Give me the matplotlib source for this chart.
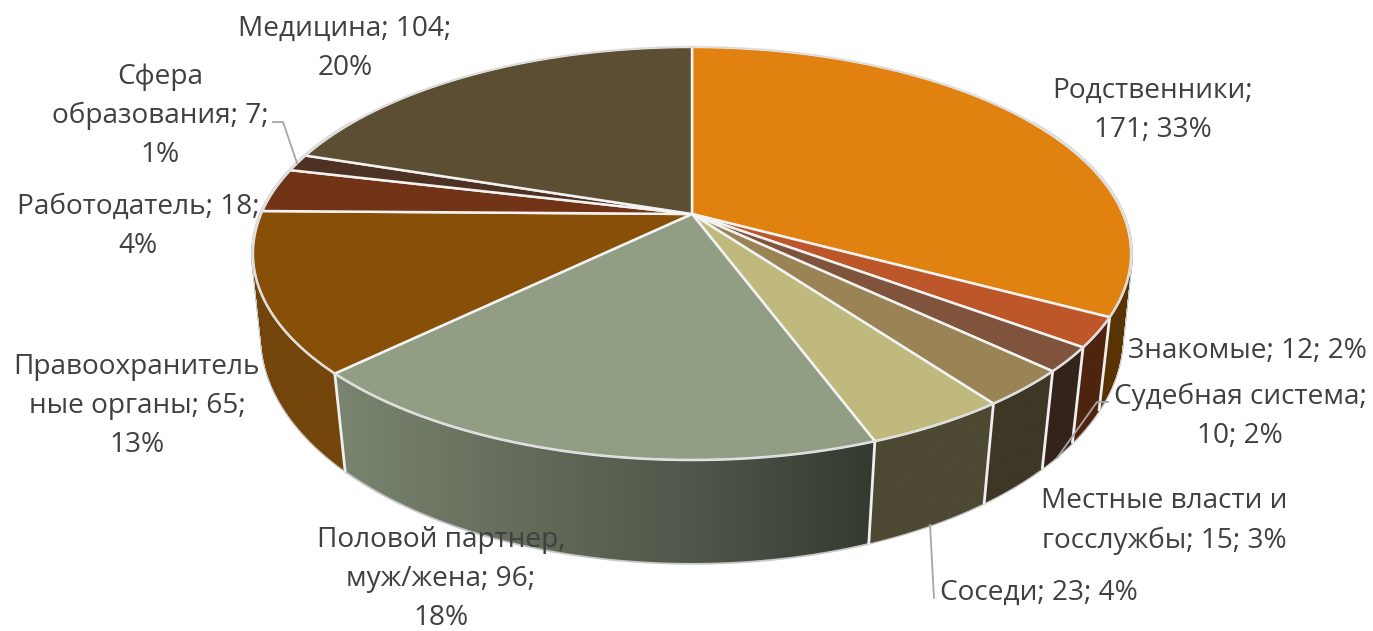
import matplotlib
matplotlib.use("Agg")
import matplotlib.pyplot as plt
import numpy as np
from matplotlib.collections import PolyCollection
from matplotlib.colors import LinearSegmentedColormap
from matplotlib.patches import Polygon

plt.rcParams['font.family'] = ['Open Sans', 'DejaVu Sans']

categories = ["Родственники", "Знакомые", "Судебная система", "Местные власти и госслужбы",
              "Соседи", "Половой партнер, муж/жена", "Правоохранительные органы",
              "Работодатель", "Сфера образования", "Медицина"]
values = [171, 12, 10, 15, 23, 96, 65, 18, 7, 104]
percents = [33, 2, 2, 3, 4, 18, 13, 4, 1, 20]
top_colors = ["#E08110", "#BD5629", "#7F533C", "#9A8455", "#BFB97D",
              "#929E84", "#874F07", "#713417", "#4D3122", "#5C4E33"]
side_colors = ["#5A3303", "#4E230E", "#33221A", "#3E3624", "#4D4832",
               "#929E84", "#73450A", "#713417", "#4D3122", "#5C4E33"]
partner_stops = ["#7A8570", "#646D5B", "#50564A", "#333A30"]

label_texts = ["Родственники;\n{v}; {p}%", "Знакомые; {v}; {p}%", "Судебная система;\n{v}; {p}%",
               "Местные власти и\nгосслужбы; {v}; {p}%", "Соседи; {v}; {p}%",
               "Половой партнер,\nмуж/жена; {v};\n{p}%", "Правоохранитель\nные органы; {v};\n{p}%",
               "Работодатель; {v};\n{p}%", "Сфера\nобразования; {v};\n{p}%", "Медицина; {v};\n{p}%"]
label_pos = [(1153, 110), (1247, 351), (1240, 416), (1164, 521), (1039, 593),
             (441, 579), (137, 406), (138, 226), (160, 116), (345, 48)]

leaders = [[(273, 122), (283, 122), (297, 163)],
           [(930, 525), (934, 598)],
           [(1108, 402), (1097, 402), (1057, 458)]]

CX = 692


def top_pt(theta):
    w = 1 + 0.191 * np.cos(theta)
    return CX + 431 * np.sin(theta) / w, 214 - 199 * np.cos(theta) / w


def bot_pt(theta):
    w = 1 + 0.178 * np.cos(theta)
    return CX + 423 * np.sin(theta) / w, 297 - 218.6 * np.cos(theta) / w


def arc(func, a, b):
    t = np.linspace(a, b, max(int((b - a) * 120), 2))
    x, y = func(t)
    return np.column_stack([x, y])


def strips(a, b):
    # small quads, a single polygon misses the part behind the tangent
    t = np.linspace(a, b, max(int((b - a) * 120), 2))
    tx, ty = top_pt(t)
    bx, by = bot_pt(t)
    return [[(tx[j], ty[j]), (tx[j + 1], ty[j + 1]), (bx[j + 1], by[j + 1]), (bx[j], by[j])]
            for j in range(len(t) - 1)]


fig = plt.figure(figsize=(13.73, 6.31), dpi=100)
ax = fig.add_axes([0, 0, 1, 1])
ax.set_xlim(0, 1373)
ax.set_ylim(631, 0)
ax.axis("off")

edges = np.concatenate([[0], np.cumsum(values)]) / sum(values) * 2 * np.pi
vis_a, vis_b = np.radians(60), np.radians(300)

# outline of the whole body first
ax.add_collection(PolyCollection(strips(vis_a, vis_b), facecolors="#C8C8C8", edgecolors="#C8C8C8",
                                 linewidths=2.5, zorder=1))

# sides, only the front part is visible
for i in range(len(values)):
    a, b = max(edges[i], vis_a), min(edges[i + 1], vis_b)
    if b <= a:
        continue
    if i == 5:
        poly = np.vstack([arc(top_pt, a, b), arc(bot_pt, a, b)[::-1]])
        patch = Polygon(poly, fc="none", ec="none", zorder=2)
        ax.add_patch(patch)
        cmap = LinearSegmentedColormap.from_list("partner", partner_stops)
        im = ax.imshow(np.linspace(0, 1, 256)[None, :], cmap=cmap, aspect="auto", zorder=2,
                       extent=(poly[:, 0].min(), poly[:, 0].max(), 570, 370))
        im.set_clip_path(patch)
    else:
        ax.add_collection(PolyCollection(strips(a, b), facecolors=side_colors[i],
                                         edgecolors=side_colors[i], linewidths=0.6, zorder=2))

# dividers between side faces
for e in edges:
    if vis_a < e < vis_b:
        ax.plot([top_pt(e)[0], bot_pt(e)[0]], [top_pt(e)[1], bot_pt(e)[1]],
                color="#EFEFEF", lw=2, zorder=3)
ax.set_xlim(0, 1373)
ax.set_ylim(631, 0)

# top face
full = np.linspace(0, 2 * np.pi, 400)
for i in range(len(values)):
    rim = arc(top_pt, edges[i], edges[i + 1])
    poly = np.vstack([[(CX, 214)], rim])
    ax.add_patch(Polygon(poly, fc=top_colors[i], ec="#F2F2F2", lw=1.8, joinstyle="round", zorder=4))
ax.plot(*top_pt(full), color="#D9D9D9", lw=1, zorder=5)

for pts in leaders:
    xs, ys = zip(*pts)
    ax.plot(xs, ys, color="#A6A6A6", lw=1.3, zorder=6)

for i, txt in enumerate(label_texts):
    ax.text(label_pos[i][0], label_pos[i][1], txt.format(v=values[i], p=percents[i]),
            ha="center", va="center", fontsize=20.2, color="#404040", linespacing=1.53, zorder=7)

plt.savefig("out.png", dpi=100)
